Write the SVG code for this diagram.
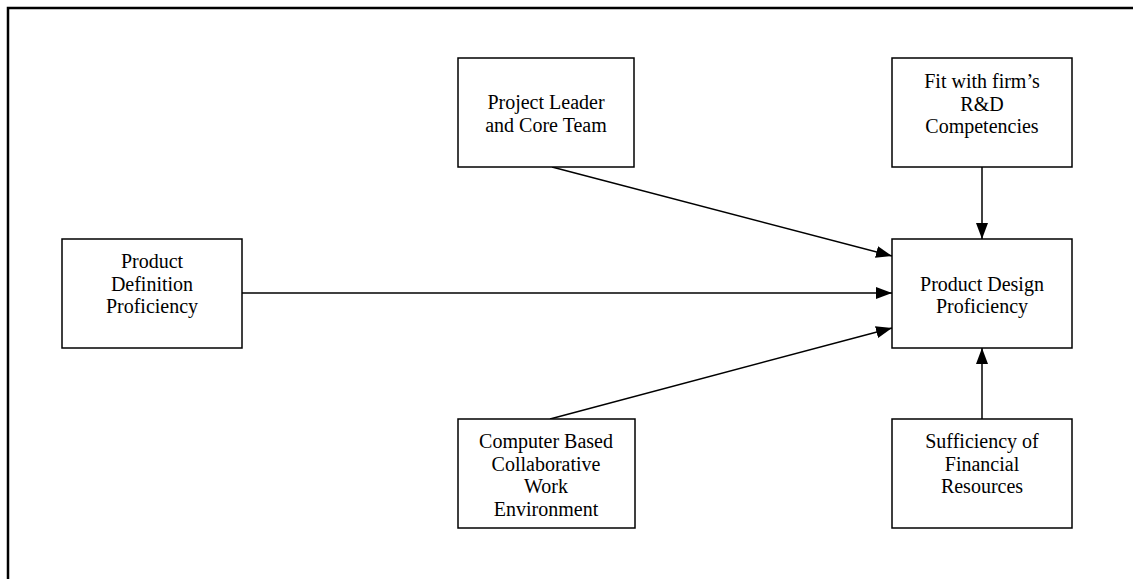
<svg xmlns="http://www.w3.org/2000/svg" width="1133" height="579" viewBox="0 0 1133 579">
  <style>
    .box { fill: #fff; stroke: #000; stroke-width: 1.5; }
    .lbl { font-family: "Liberation Serif", "Times New Roman", serif; font-size: 20px; fill: #000; text-anchor: middle; }
    .edge { stroke: #000; stroke-width: 1.5; fill: none; marker-end: url(#head); }
  </style>
  <defs>
    <marker id="head" viewBox="0 0 16 12" refX="16" refY="6" markerWidth="16" markerHeight="12" markerUnits="userSpaceOnUse" orient="auto">
      <path d="M0,0 L16,6 L0,12 Z" fill="#000"/>
    </marker>
  </defs>
  <rect width="1133" height="579" fill="#fff"/>
  <!-- page frame -->
  <path d="M8,579 V8 H1133" fill="none" stroke="#000" stroke-width="2.5"/>

  <g id="connectors">
    <line class="edge" x1="552" y1="167" x2="892" y2="256"/>
    <line class="edge" x1="242" y1="293" x2="892" y2="293"/>
    <line class="edge" x1="550" y1="419" x2="892" y2="328"/>
    <line class="edge" x1="982" y1="167" x2="982" y2="239"/>
    <line class="edge" x1="982" y1="419" x2="982" y2="348"/>
  </g>

  <g id="project-leader">
    <rect class="box" x="458" y="58" width="176" height="109"/>
    <text class="lbl" x="546" y="109">Project Leader</text>
    <text class="lbl" x="546" y="132">and Core Team</text>
  </g>

  <g id="fit-rd">
    <rect class="box" x="892" y="58" width="180" height="109"/>
    <text class="lbl" x="982" y="88">Fit with firm’s</text>
    <text class="lbl" x="982" y="111">R&amp;D</text>
    <text class="lbl" x="982" y="133">Competencies</text>
  </g>

  <g id="product-definition">
    <rect class="box" x="62" y="239" width="180" height="109"/>
    <text class="lbl" x="152" y="268">Product</text>
    <text class="lbl" x="152" y="291">Definition</text>
    <text class="lbl" x="152" y="313">Proficiency</text>
  </g>

  <g id="product-design">
    <rect class="box" x="892" y="239" width="180" height="109"/>
    <text class="lbl" x="982" y="291">Product Design</text>
    <text class="lbl" x="982" y="313">Proficiency</text>
  </g>

  <g id="computer-based">
    <rect class="box" x="458" y="419" width="177" height="109"/>
    <text class="lbl" x="546" y="448">Computer Based</text>
    <text class="lbl" x="546" y="471">Collaborative</text>
    <text class="lbl" x="546" y="493">Work</text>
    <text class="lbl" x="546" y="516">Environment</text>
  </g>

  <g id="financial-resources">
    <rect class="box" x="892" y="419" width="180" height="109"/>
    <text class="lbl" x="982" y="448">Sufficiency of</text>
    <text class="lbl" x="982" y="471">Financial</text>
    <text class="lbl" x="982" y="493">Resources</text>
  </g>
</svg>
